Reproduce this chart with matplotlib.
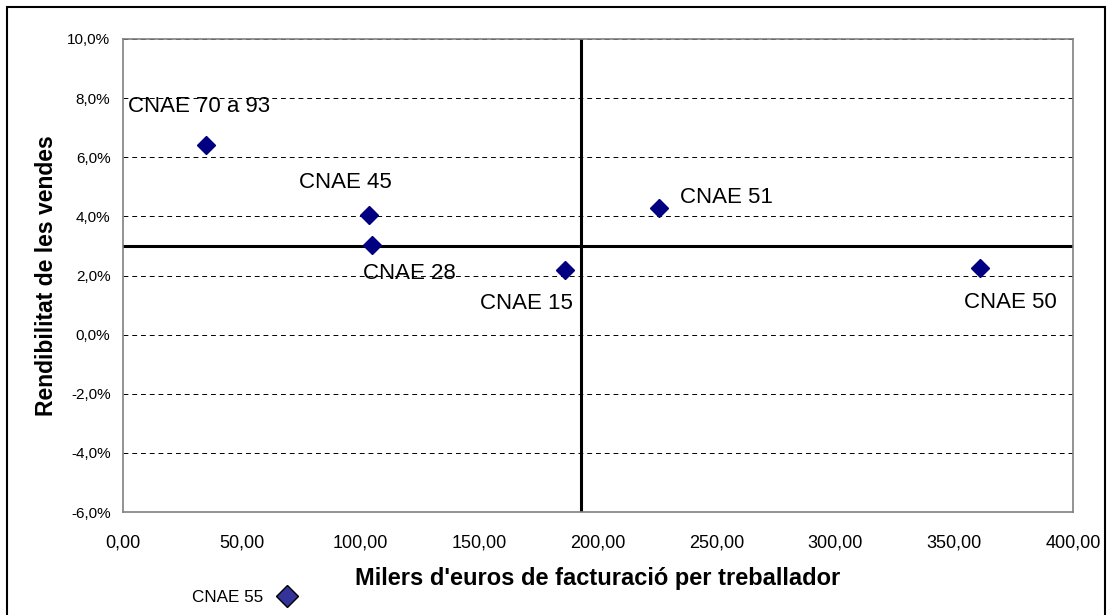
import matplotlib
matplotlib.use("Agg")
import matplotlib.pyplot as plt
from matplotlib.lines import Line2D
from matplotlib.patches import Rectangle
from matplotlib.ticker import FuncFormatter, MultipleLocator

plt.rcParams['font.family'] = ['Liberation Sans', 'DejaVu Sans']

# dades llegides del gràfic
sectors = ['CNAE 70 a 93', 'CNAE 45', 'CNAE 28', 'CNAE 15', 'CNAE 51', 'CNAE 50']
facturacio = [34.9, 103.6, 104.8, 186.1, 225.7, 360.8]      # milers d'euros per treballador
rendibilitat = [6.41, 4.05, 3.03, 2.19, 4.28, 2.25]         # %
mitjana_x = 193.0
mitjana_y = 3.0
sector_fora = 'CNAE 55'

# posició de cada etiqueta respecte del punt (píxels)
offsets = [(-78, 39), (-70, 32), (-9, -28), (-85, -34), (21, 11), (-16, -34)]

fig = plt.figure(figsize=(11.12, 6.15), dpi=100)
ax = fig.add_axes([123 / 1112, 1 - 512 / 615, 950 / 1112, 473 / 615])

ax.set_xlim(0, 400)
ax.set_ylim(-6, 10)
ax.xaxis.set_major_locator(MultipleLocator(50))
ax.yaxis.set_major_locator(MultipleLocator(2))
ax.xaxis.set_major_formatter(FuncFormatter(lambda v, p: f"{v:.2f}".replace('.', ',')))
ax.yaxis.set_major_formatter(FuncFormatter(lambda v, p: f"{v:.1f}%".replace('.', ',')))
ax.tick_params(axis='both', length=0)
ax.tick_params(axis='y', pad=9, labelsize=11)
ax.tick_params(axis='x', pad=16, labelsize=13)

for s in ax.spines.values():
    s.set_color('#808080')
    s.set_linewidth(1.2)

ax.yaxis.grid(True, color='black', linestyle=(0, (5, 4)), linewidth=0.7)
ax.set_axisbelow(True)

ax.axhline(mitjana_y, color='black', linewidth=2.2, zorder=2)
ax.axvline(mitjana_x, color='black', linewidth=2.2, zorder=2)

ax.plot(facturacio, rendibilitat, linestyle='none', marker='D', markersize=9.5,
        color='#000080', zorder=3)

for nom, x, y, (dx, dy) in zip(sectors, facturacio, rendibilitat, offsets):
    ax.annotate(nom, (x, y), xytext=(dx, dy), textcoords='offset pixels',
                ha='left', va='center', fontsize=16)

ax.set_xlabel("Milers d'euros de facturació per treballador", fontsize=17,
              fontweight='bold', labelpad=11)
ax.set_ylabel("Rendibilitat de les vendes", fontsize=16.5, fontweight='bold', labelpad=7)

handle = Line2D([], [], linestyle='none', marker='D', markersize=11.7,
                markerfacecolor='#333399', markeredgecolor='black', markeredgewidth=1)
fig.legend(handles=[handle], labels=[sector_fora], loc='center',
           bbox_to_anchor=(246 / 1112, 1 - 597 / 615), frameon=False,
           markerfirst=False, fontsize=12.3, handlelength=1.6,
           handletextpad=0.59, borderpad=0)

fig.patches.append(Rectangle((7 / 1112, -0.01), 1098 / 1112, 1 - 7 / 615 + 0.01,
                             transform=fig.transFigure, fill=False,
                             edgecolor='black', linewidth=1.5))

fig.savefig('out.png', dpi=100)
